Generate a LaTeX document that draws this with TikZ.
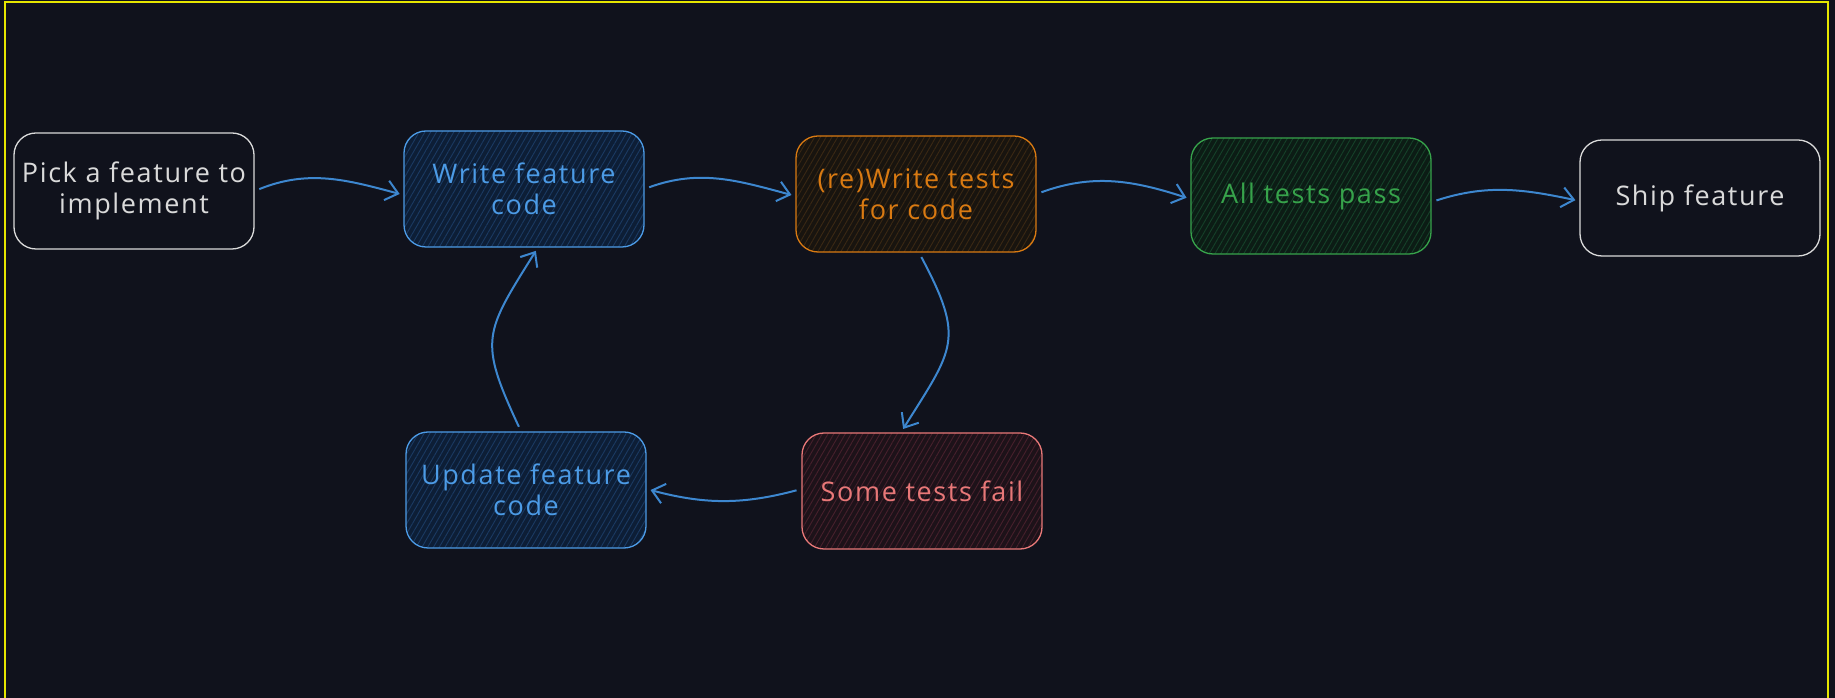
\documentclass[tikz,border=0pt]{standalone}
\usepackage{fontspec}
\usepackage{tikz}
\usetikzlibrary{arrows.meta,patterns.meta,positioning}
\newfontfamily\handfont[LetterSpace=6]{Open Sans}
\definecolor{bgnavy}{HTML}{10121C}
\definecolor{frameyellow}{HTML}{E6E600}
\definecolor{inkwhite}{HTML}{DADADA}
\definecolor{inkblue}{HTML}{4C9BE6}
\definecolor{arrowblue}{HTML}{3D87CF}
\definecolor{inkorange}{HTML}{D97A12}
\definecolor{inkgreen}{HTML}{37A34B}
\definecolor{inkred}{HTML}{E87878}
\definecolor{fillblue}{HTML}{0D1E36}
\definecolor{hatchblue}{HTML}{1B3A62}
\definecolor{fillorange}{HTML}{18140F}
\definecolor{hatchorange}{HTML}{3A2814}
\definecolor{fillgreen}{HTML}{0C1C15}
\definecolor{hatchgreen}{HTML}{154129}
\definecolor{fillred}{HTML}{1D1219}
\definecolor{hatchred}{HTML}{46202C}
\tikzset{
  card/.style={rectangle, draw, line width=1.3pt, rounded corners=22pt,
    minimum width=240pt, minimum height=116pt, align=center,
    font=\handfont\fontsize{27}{31}\selectfont},
  plaincard/.style={card, draw=inkwhite, text=inkwhite},
  hatchcard/.style n args={3}{card, draw=#1, text=#1, preaction={fill=#2},
    pattern={Lines[angle=60, distance=5pt, line width=0.9pt]}, pattern color=#3},
  flow/.style={draw=arrowblue, line width=2pt, -{Straight Barb[length=12pt, width=20pt]},
    shorten <=5pt, shorten >=4pt},
}

\begin{document}
\begin{tikzpicture}[x=1pt, y=1pt]
  % background and frame
  \fill[bgnavy] (0,0) rectangle (1835,698);
  \useasboundingbox (0,0) rectangle (1835,698);
  \draw[frameyellow, line width=2.5pt] (5,-10) -- (5,696) -- (1828,696) -- (1828,-10);

  %% --- top row ---
  \node[plaincard] (pick) at (134,507) {Pick a feature to\\implement};
  \node[hatchcard={inkblue}{fillblue}{hatchblue}] (write) at (524,509) {Write feature\\code};
  \node[hatchcard={inkorange}{fillorange}{hatchorange}] (tests) at (916,504) {(re)Write tests\\for code};
  \node[hatchcard={inkgreen}{fillgreen}{hatchgreen}] (pass) at (1311,502) {All tests pass};
  \node[plaincard] (ship) at (1700,500) {Ship feature};

  %% --- bottom row ---
  \node[hatchcard={inkblue}{fillblue}{hatchblue}] (update) at (526,208) {Update feature\\code};
  \node[hatchcard={inkred}{fillred}{hatchred}] (fail) at (922,207) {Some tests fail};

  % Connectors
  \draw[flow] (pick.east) to[out=22, in=165] ([yshift=-6pt]write.west);
  \draw[flow] (write.east) to[out=20, in=165] ([yshift=-2pt]tests.west);
  \draw[flow] (tests.east) to[out=20, in=162] ([yshift=-3pt]pass.west);
  \draw[flow] ([yshift=-6pt]pass.east) to[out=18, in=168] ([yshift=-3pt]ship.west);
  \draw[flow] ([xshift=3pt]tests.south) to[out=-62, in=58, looseness=1.4] ([xshift=-21pt]fail.north);
  \draw[flow] ([yshift=2pt]fail.west) to[out=195, in=-15] ([yshift=1pt]update.east);
  \draw[flow] ([xshift=-5pt]update.north) to[out=115, in=238, looseness=1.4] ([xshift=14pt]write.south);
\end{tikzpicture}
\end{document}
